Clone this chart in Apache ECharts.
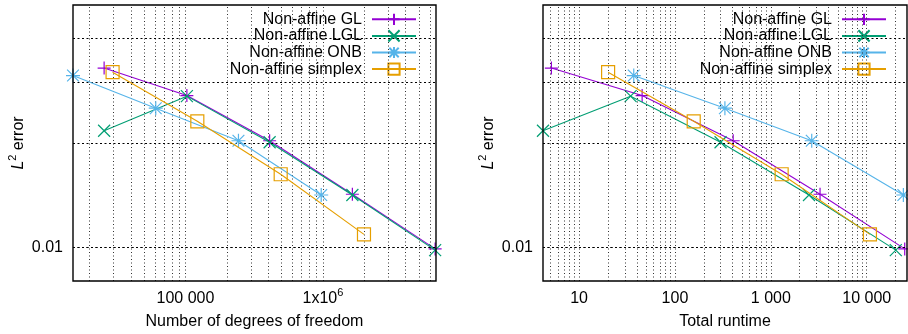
<!DOCTYPE html>
<html>
<head>
<meta charset="utf-8">
<script src="https://cdn.jsdelivr.net/npm/echarts@6/dist/echarts.min.js"></script>
<style>
html,body{margin:0;padding:0;background:#fff;}
#chart{width:908px;height:334px;}
</style>
</head>
<body>
<div id="chart"></div>
<script>
// ---- data ----
const seriesNames = ['Non-affine GL', 'Non-affine LGL', 'Non-affine ONB', 'Non-affine simplex'];

// Left panel: number of degrees of freedom
const dofGL      = [25600, 102400, 409600, 1638400, 6553600];
const dofLGL     = [25600, 102400, 409600, 1638400, 6553600];
const dofONB     = [15200, 60800, 243000, 972000];
const dofSimplex = [29500, 122000, 493000, 1990000];

// Right panel: total runtime
const rtGL       = [5.15, 45.5, 405, 3260, 24900];
const rtLGL      = [4.21, 34.5, 299, 2500, 20100];
const rtONB      = [37.2, 332, 2670, 24100];
const rtSimplex  = [20.1, 157, 1297, 10800];

// L2 errors (shared by both panels)
const errGL      = [0.0329, 0.0274, 0.0203, 0.01423, 0.00990];
const errLGL     = [0.0217, 0.0273, 0.0201, 0.01416, 0.00982];
const errONB     = [0.0313, 0.0252, 0.0203, 0.01416];
const errSimplex = [0.0320, 0.0231, 0.01625, 0.0109];

// axis ranges
const leftXRange  = [15200, 6650000];
const rightXRange = [4.21, 26300];
const yRange      = [0.008, 0.05];

// tick labels
const leftXTickValues  = [100000, 1000000];
const leftXTickLabels  = ['{b|100 000}', '{b|1x10}{s|6}'];
const rightXTickValues = [10, 100, 1000, 10000];
const rightXTickLabels = ['{b|10}', '{b|100}', '{b|1 000}', '{b|10 000}'];
const yTickValues      = [0.01];
const yTickLabels      = ['0.01'];

// grid line values (major + minor tics)
const leftXGrid  = [20000, 30000, 40000, 50000, 60000, 70000, 80000, 90000, 100000,
  200000, 300000, 400000, 500000, 600000, 700000, 800000, 900000, 1000000,
  2000000, 3000000, 4000000, 5000000, 6000000];
const rightXGrid = [5, 6, 7, 8, 9, 10, 20, 30, 40, 50, 60, 70, 80, 90, 100,
  200, 300, 400, 500, 600, 700, 800, 900, 1000,
  2000, 3000, 4000, 5000, 6000, 7000, 8000, 9000, 10000, 20000];
const yGrid = [0.009, 0.01, 0.02, 0.03, 0.04];

// ---- styling ----
const FONT = "'Liberation Sans', Arial, Helvetica, sans-serif";
const colors = ['#9400D3', '#009E73', '#56B4E9', '#E69F00'];
const symbols = [
  'path://M0,5L10,5M5,0L5,10',
  'path://M0,0L10,10M10,0L0,10',
  'path://M0,5L10,5M5,0L5,10M0.8,0.8L9.2,9.2M9.2,0.8L0.8,9.2',
  'path://M0,0L10,0L10,10L0,10Z'
];
const symbolSizes = [13, 12, 14, 13];

function labelFromMap(values, labels) {
  return function (v) {
    const val = (typeof v === 'object' && v !== null) ? v.value : v;
    for (let i = 0; i < values.length; i++) {
      const t = values[i];
      if (val > 0 && Math.abs(Math.log10(val) - Math.log10(t)) < 1e-6) return labels[i];
      if (Math.abs(val - Math.log10(t)) < 1e-6) return labels[i];
    }
    return '';
  };
}

const richTick = {
  b: {fontSize: 16, fontFamily: FONT, color: '#000', lineHeight: 20, verticalAlign: 'bottom'},
  s: {fontSize: 11, fontFamily: FONT, color: '#000', verticalAlign: 'top'}
};

function makeSeries(name, idx, xs, ys, axisIndex) {
  const c = colors[idx];
  return {
    name: name,
    type: 'line',
    xAxisIndex: axisIndex,
    yAxisIndex: axisIndex,
    data: xs.map((x, i) => [x, ys[i]]),
    symbol: symbols[idx],
    symbolSize: symbolSizes[idx],
    showAllSymbol: true,
    color: c,
    lineStyle: {color: c, width: 1.1},
    itemStyle: {color: 'rgba(0,0,0,0)', borderColor: c, borderWidth: 1.2},
    emphasis: {disabled: true},
    z: 3 + idx,
    clip: false
  };
}

function gridSeries(axisIndex, xGrid) {
  const vData = xGrid.map(v => ({xAxis: v, lineStyle: {type: [1, 2.5], color: '#333'}}));
  const hData = yGrid.map(v => ({yAxis: v, lineStyle: {type: [2, 2.5], color: '#000'}}));
  return {
    type: 'line',
    xAxisIndex: axisIndex,
    yAxisIndex: axisIndex,
    data: [],
    silent: true,
    z: 1,
    markLine: {
      silent: true,
      symbol: ['none', 'none'],
      label: {show: false},
      animation: false,
      lineStyle: {width: 1, color: '#000', type: [1, 2.5]},
      emphasis: {disabled: true},
      data: vData.concat(hData)
    }
  };
}

function xAxisDef(gridIndex, range, tickValues, tickLabels, name, margin) {
  return {
    type: 'log', logBase: 10, gridIndex: gridIndex,
    min: range[0], max: range[1],
    axisLine: {show: false},
    axisTick: {show: false},
    splitLine: {show: false},
    axisLabel: {
      margin: margin,
      formatter: labelFromMap(tickValues, tickLabels),
      rich: richTick,
      color: '#000', fontSize: 16, fontFamily: FONT,
      hideOverlap: false
    },
    name: name, nameLocation: 'middle', nameGap: 33,
    nameMoveOverlap: false,
    nameTextStyle: {fontSize: 16, fontFamily: FONT, color: '#000'}
  };
}

function yAxisDef(gridIndex) {
  return {
    type: 'log', logBase: 10, gridIndex: gridIndex,
    min: yRange[0], max: yRange[1],
    axisLine: {show: false},
    axisTick: {show: false},
    splitLine: {show: false},
    axisLabel: {
      margin: 10,
      formatter: labelFromMap(yTickValues, yTickLabels),
      color: '#000', fontSize: 16, fontFamily: FONT,
      hideOverlap: false
    },
    name: '{i|L}{s|2}{b| error}',
    nameLocation: 'middle', nameGap: 46, nameRotate: 90,
    nameMoveOverlap: false,
    nameTextStyle: {
      fontSize: 16, fontFamily: FONT, color: '#000',
      rich: {
        i: {fontSize: 16, fontFamily: FONT, fontStyle: 'italic', color: '#000', lineHeight: 20, verticalAlign: 'bottom'},
        s: {fontSize: 11, fontFamily: FONT, color: '#000', verticalAlign: 'top'},
        b: {fontSize: 16, fontFamily: FONT, color: '#000', lineHeight: 20, verticalAlign: 'bottom'}
      }
    }
  };
}

function legendDef(right) {
  return {
    data: seriesNames,
    orient: 'vertical',
    align: 'right',
    right: right,
    top: 11,
    padding: 0,
    itemGap: 0,
    itemWidth: 44,
    itemHeight: 14,
    selectedMode: false,
    textStyle: {fontSize: 16, fontFamily: FONT, color: '#000', lineHeight: 16.6, padding: [0, 5, 0, 0]}
  };
}

const series = [
  gridSeries(0, leftXGrid),
  gridSeries(1, rightXGrid),
  makeSeries(seriesNames[0], 0, dofGL, errGL, 0),
  makeSeries(seriesNames[1], 1, dofLGL, errLGL, 0),
  makeSeries(seriesNames[2], 2, dofONB, errONB, 0),
  makeSeries(seriesNames[3], 3, dofSimplex, errSimplex, 0),
  makeSeries(seriesNames[0], 0, rtGL, errGL, 1),
  makeSeries(seriesNames[1], 1, rtLGL, errLGL, 1),
  makeSeries(seriesNames[2], 2, rtONB, errONB, 1),
  makeSeries(seriesNames[3], 3, rtSimplex, errSimplex, 1)
];

const chart = echarts.init(document.getElementById('chart'), null, {renderer: 'canvas'});
chart.setOption({
  animation: false,
  backgroundColor: '#fff',
  textStyle: {fontFamily: FONT},
  grid: [
    {left: 73, top: 5, width: 363, height: 276, show: true, borderColor: '#000', borderWidth: 1.4, backgroundColor: 'transparent', z: 10, containLabel: false, outerBoundsMode: 'none'},
    {left: 543, top: 5, width: 364, height: 276, show: true, borderColor: '#000', borderWidth: 1.4, backgroundColor: 'transparent', z: 10, containLabel: false, outerBoundsMode: 'none'}
  ],
  legend: [legendDef(491), legendDef(21)],
  xAxis: [
    xAxisDef(0, leftXRange, leftXTickValues, leftXTickLabels, 'Number of degrees of freedom', 6),
    xAxisDef(1, rightXRange, rightXTickValues, rightXTickLabels, 'Total runtime', 6)
  ],
  yAxis: [yAxisDef(0), yAxisDef(1)],
  series: series
});
</script>
</body>
</html>
